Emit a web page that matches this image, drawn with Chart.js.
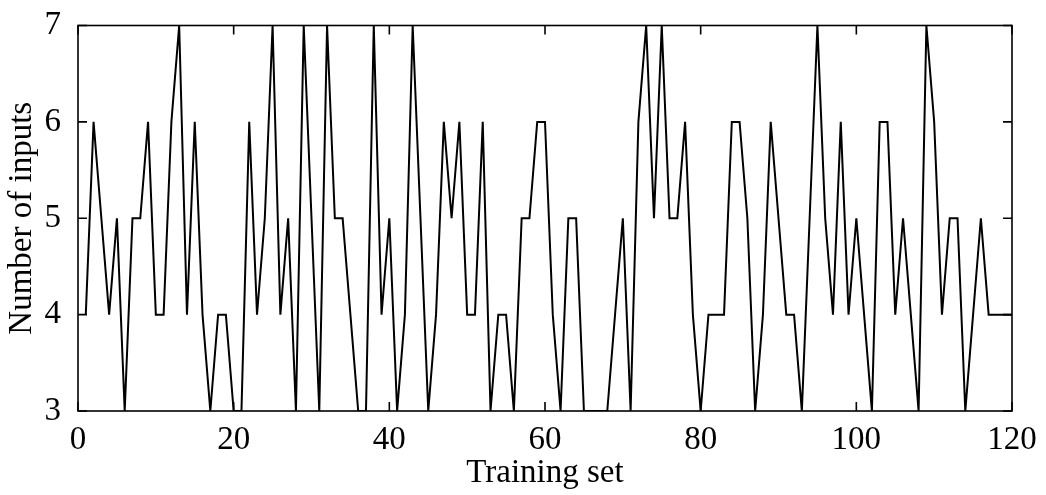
<!DOCTYPE html>
<html>
<head>
<meta charset="utf-8">
<title>Number of inputs per training set</title>
<script src="https://cdn.jsdelivr.net/npm/chart.js@4/dist/chart.umd.min.js"></script>
<style>
    html, body { margin: 0; padding: 0; background: #fff; }
    #wrap { width: 1046px; height: 495px; }
</style>
</head>
<body>
<div id="wrap"><canvas id="inputs-chart" width="1046" height="495"></canvas></div>
<script>
// Training set index (x) and number of inputs selected (y)
const trainingSet = [
    1, 2, 3, 4, 5, 6, 7, 8, 9, 10, 11, 12, 13, 14, 15, 16, 17, 18, 19, 20,
    21, 22, 23, 24, 25, 26, 27, 28, 29, 30, 31, 32, 33, 34, 35, 36, 37, 38, 39, 40,
    41, 42, 43, 44, 45, 46, 47, 48, 49, 50, 51, 52, 53, 54, 55, 56, 57, 58, 59, 60,
    61, 62, 63, 64, 65, 66, 67, 68, 69, 70, 71, 72, 73, 74, 75, 76, 77, 78, 79, 80,
    81, 82, 83, 84, 85, 86, 87, 88, 89, 90, 91, 92, 93, 94, 95, 96, 97, 98, 99, 100,
    101, 102, 103, 104, 105, 106, 107, 108, 109, 110, 111, 112, 113, 114, 115, 116, 117, 118, 119, 120
];
const numInputs = [
    4, 6, 5, 4, 5, 3, 5, 5, 6, 4, 4, 6, 7, 4, 6, 4, 3, 4, 4, 3,
    3, 6, 4, 5, 7, 4, 5, 3, 7, 5, 3, 7, 5, 5, 4, 3, 3, 7, 4, 5,
    3, 4, 7, 5, 3, 4, 6, 5, 6, 4, 4, 6, 3, 4, 4, 3, 5, 5, 6, 6,
    4, 3, 5, 5, 3, 3, 3, 3, 4, 5, 3, 6, 7, 5, 7, 5, 5, 6, 4, 3,
    4, 4, 4, 6, 6, 5, 3, 4, 6, 5, 4, 4, 3, 5, 7, 5, 4, 6, 4, 5,
    4, 3, 6, 6, 4, 5, 4, 3, 7, 6, 4, 5, 5, 3, 4, 5, 4, 4, 4, 4
];
const xTicks = [0, 20, 40, 60, 80, 100, 120];
const yTicks = [3, 4, 5, 6, 7];

const serif = 'Liberation Serif, Times New Roman, serif';

// MATLAB style box with inward tick marks on all four sides
const boxPlugin = {
    id: 'boxPlugin',
    afterDatasetsDraw(chart) {
        const { ctx, chartArea: a, scales: { x, y } } = chart;
        const len = 9;
        ctx.save();
        ctx.strokeStyle = '#000';
        ctx.lineWidth = 1.6;
        ctx.strokeRect(a.left, a.top, a.right - a.left, a.bottom - a.top);
        ctx.beginPath();
        xTicks.forEach(v => {
            const px = x.getPixelForValue(v);
            ctx.moveTo(px, a.bottom);
            ctx.lineTo(px, a.bottom - len);
            ctx.moveTo(px, a.top);
            ctx.lineTo(px, a.top + len);
        });
        yTicks.forEach(v => {
            const py = y.getPixelForValue(v);
            ctx.moveTo(a.left, py);
            ctx.lineTo(a.left + len, py);
            ctx.moveTo(a.right, py);
            ctx.lineTo(a.right - len, py);
        });
        ctx.stroke();
        ctx.restore();
    }
};

const points = trainingSet.map((t, i) => ({ x: t, y: numInputs[i] }));

new Chart(document.getElementById('inputs-chart'), {
    type: 'line',
    data: {
        datasets: [{
            data: points,
            borderColor: '#000',
            borderWidth: 2,
            pointRadius: 0,
            tension: 0,
            fill: false
        }]
    },
    options: {
        responsive: false,
        animation: false,
        devicePixelRatio: 1,
        layout: { padding: { top: 17, right: 34, left: 0, bottom: 0 } },
        plugins: {
            legend: { display: false },
            tooltip: { enabled: false }
        },
        scales: {
            x: {
                type: 'linear',
                min: 0,
                max: 120,
                afterFit(scale) { scale.height = 84; },
                afterBuildTicks(scale) { scale.ticks = xTicks.map(v => ({ value: v })); },
                ticks: {
                    color: '#000',
                    maxRotation: 0,
                    padding: 5,
                    font: { family: serif, size: 33, lineHeight: 1 }
                },
                grid: { display: false },
                border: { display: false },
                title: {
                    display: true,
                    text: 'Training set',
                    color: '#000',
                    padding: { top: 0, bottom: 2 },
                    font: { family: serif, size: 33, lineHeight: 1.2 }
                }
            },
            y: {
                min: 3,
                max: 7,
                afterFit(scale) { scale.width = 78; },
                afterBuildTicks(scale) { scale.ticks = yTicks.map(v => ({ value: v })); },
                ticks: {
                    color: '#000',
                    padding: 9,
                    font: { family: serif, size: 33, lineHeight: 1 }
                },
                grid: { display: false },
                border: { display: false },
                title: {
                    display: true,
                    text: 'Number of inputs',
                    color: '#000',
                    padding: { top: 3, bottom: 0 },
                    font: { family: serif, size: 33, lineHeight: 1.2 }
                }
            }
        }
    },
    plugins: [boxPlugin]
});
</script>
</body>
</html>
